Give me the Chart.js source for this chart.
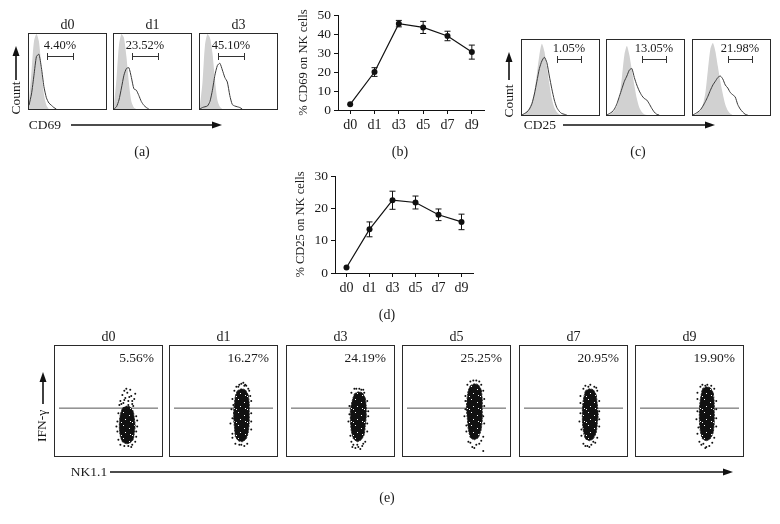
<!DOCTYPE html>
<html>
<head>
<meta charset="utf-8">
<script src="https://cdn.jsdelivr.net/npm/chart.js@4.4.0/dist/chart.umd.min.js"></script>
<style>
  body { margin:0; background:#fff; font-family:"Liberation Serif","DejaVu Serif",serif; color:#1a1a1a; }
  #fig { position:relative; width:780px; height:524px; overflow:hidden; filter:grayscale(1); }
  .box { position:absolute; border:1px solid #2a2a2a; box-sizing:border-box; background:#fff; }
  .box > div { position:absolute; left:0; top:0; right:0; bottom:0; }
  .plot { position:absolute; }
  .t { position:absolute; font-size:14px; white-space:nowrap; transform:translate(-50%,-50%); line-height:1; }
  .pct { position:absolute; font-size:13px; white-space:nowrap; line-height:1; }
  .rot { transform:translate(-50%,-50%) rotate(-90deg); }
  .gate { position:absolute; height:7px; border-left:1px solid #333; border-right:1px solid #333; box-sizing:border-box;
          background:linear-gradient(#333,#333) center/100% 1px no-repeat; }
  svg { position:absolute; left:0; top:0; }
</style>
</head>
<body>
<div id="fig">
  <svg width="780" height="524" id="arrows"></svg>
</div>
<script>
// ---- data ----
const days = ['d0', 'd1', 'd3', 'd5', 'd7', 'd9'];
const cd69Mean = [3, 20, 45.5, 43.5, 39, 30.5];
const cd69Err  = [0, 2.3, 1.7, 3.2, 2.5, 3.7];
const cd69Ticks = [0, 10, 20, 30, 40, 50];
const cd25Mean = [1.7, 13.5, 22.5, 21.8, 18, 15.8];
const cd25Err  = [0, 2.3, 2.8, 2, 1.8, 2.4];
const cd25Ticks = [0, 10, 20, 30];

// histograms (percent of box height per bin)
const histDays = ['d0', 'd1', 'd3'];
const histBins = [0,1,2,3,4,5,6,7,8,9,10,11,12,13,14,15,16,17,18,19,20,21,22,23,24,25,26,27,28,29,30,31];
const cd69Pct = ['4.40%', '23.52%', '45.10%'];
const cd69Iso = [
  [10, 50, 90, 100, 90, 55, 20, 5, 0],
  [5, 40, 85, 100, 95, 70, 35, 10, 2, 0],
  [5, 35, 85, 100, 95, 75, 40, 12, 3, 0]
];
const cd69Stain = [
  [5, 20, 45, 70, 73, 55, 30, 15, 8, 5, 2, 0],
  [0, 3, 12, 28, 45, 54, 55, 42, 27, 25, 18, 10, 5, 2, 0],
  [0, 2, 3, 4, 10, 25, 45, 58, 61, 52, 42, 36, 18, 6, 4, 3, 2, 0]
];
const cd25Pct = ['1.05%', '13.05%', '21.98%'];
const cd25Iso = [
  [0, 2, 5, 10, 18, 32, 55, 80, 95, 85, 65, 42, 22, 10, 4, 1, 0],
  [0, 1, 3, 6, 12, 25, 50, 80, 92, 80, 60, 40, 22, 10, 4, 1, 0],
  [0, 1, 3, 6, 14, 30, 60, 88, 96, 85, 65, 45, 28, 14, 6, 2, 0]
];
const cd25Stain = [
  [0, 2, 4, 8, 15, 28, 45, 62, 72, 77, 70, 52, 35, 20, 10, 5, 2, 1, 0],
  [0, 2, 4, 8, 15, 25, 35, 45, 52, 60, 62, 50, 40, 32, 26, 22, 20, 15, 9, 4, 1, 0],
  [0, 2, 4, 7, 12, 18, 25, 33, 40, 45, 50, 52, 48, 40, 36, 30, 27, 24, 14, 8, 4, 1, 0]
];

// IFN-g dot plots (x,y in % of box): dense core outline + loose events
const ifnPct = ['5.56%', '16.27%', '24.19%', '25.25%', '20.95%', '19.90%'];
const ifnGate = 43;
const ifnCore = [
  [[64,43],[68,45],[72,44],[75,40],[76,34],[77,26],[76,18],[75,12],[72,9],[68,8],[64,10],[62,15],[61,22],[61,30],[62,37],[64,43]],
  [[64,60],[68,62],[72,61],[75,56],[76,48],[76,38],[76,28],[75,19],[73,13],[69,10],[65,11],[62,15],[61,25],[60,36],[61,47],[62,55],[64,60]],
  [[64,57],[68,59],[72,58],[75,53],[76,45],[76,35],[75,25],[74,17],[71,12],[67,10],[63,13],[61,20],[60,30],[60,42],[62,51],[64,57]],
  [[64,65],[68,67],[72,66],[75,61],[76,52],[76,42],[76,32],[75,22],[72,14],[68,12],[64,14],[62,22],[61,32],[60,44],[61,55],[62,61],[64,65]],
  [[62,60],[66,62],[70,61],[73,56],[74,47],[75,37],[74,27],[73,19],[70,13],[66,11],[62,13],[60,20],[59,30],[59,42],[60,52],[62,60]],
  [[63,62],[67,64],[71,63],[74,58],[75,48],[75,38],[75,28],[74,19],[71,13],[67,11],[63,13],[61,20],[60,30],[60,42],[61,52],[63,62]]
];
const ifnDots = [
  [[65,48],[70,50],[74,47],[67,53],[73,55],[62,50],[76,52],[69,58],[64,56],[72,61],[66,60],[77,57],[70,46],[63,47],[75,45],[68,62],[71,54],[66,51],[74,50],[61,46],
   [59,30],[79,25],[59,20],[78,15],[70,6],[66,6],[74,7],[60,12],[78,35],[60,38],[79,31],[58,25],[78,20],[73,5],[62,7],[77,10]],
  [[66,66],[70,68],[73,65],[63,64],[68,67],[75,62],[61,60],[65,64],[71,65],[77,55],[59,52],[78,50],[58,42],[78,38],[59,33],[57,28],[78,22],[59,18],
   [59,14],[66,7],[71,6],[74,8],[62,8],[68,7],[76,60],[72,66],[78,30],[60,46]],
  [[64,62],[69,62],[73,61],[61,58],[66,62],[71,61],[74,58],[77,50],[59,45],[78,40],[78,35],[58,30],[59,37],[77,28],[77,20],[60,16],[61,10],[63,7],
   [68,5],[72,6],[65,4],[70,3],[75,10],[67,7],[62,5],[73,8]],
  [[64,69],[70,70],[73,69],[67,70],[61,66],[75,66],[77,60],[59,55],[59,50],[78,45],[78,52],[58,35],[59,42],[78,28],[77,35],[60,20],[60,26],[64,9],
   [70,7],[66,5],[73,8],[68,4],[62,10],[75,11],[77,15],[77,1]],
  [[62,65],[67,66],[71,64],[65,64],[60,62],[74,60],[73,63],[57,48],[57,55],[76,40],[76,50],[56,30],[57,38],[76,25],[76,32],[58,16],[58,22],[60,8],
   [64,6],[68,7],[62,6],[72,9],[66,5],[70,10],[74,14]],
  [[63,66],[68,66],[72,65],[66,65],[61,64],[75,62],[58,52],[58,58],[77,42],[77,50],[57,32],[58,40],[77,25],[77,33],[58,18],[59,24],[62,7],[66,4],
   [70,6],[64,8],[73,9],[67,5],[60,10],[75,14]]
];

// ---- layout ----
Chart.defaults.font.family = '"Liberation Serif","DejaVu Serif",serif';
Chart.defaults.font.size = 13;
Chart.defaults.color = '#1a1a1a';
Chart.defaults.animation = false;

const fig = document.getElementById('fig');

function addText(txt, x, y, cls, size) {
  const d = document.createElement('div');
  d.className = cls || 't';
  d.textContent = txt;
  d.style.left = x + 'px';
  d.style.top = y + 'px';
  if (size) d.style.fontSize = size + 'px';
  fig.appendChild(d);
  return d;
}

function addBox(left, top, w, h) {
  const b = document.createElement('div');
  b.className = 'box';
  Object.assign(b.style, { left: left + 'px', top: top + 'px', width: w + 'px', height: h + 'px' });
  const inner = document.createElement('div');
  const c = document.createElement('canvas');
  inner.appendChild(c);
  b.appendChild(inner);
  fig.appendChild(b);
  return c;
}

function addGate(x1, x2, y) {
  const g = document.createElement('div');
  g.className = 'gate';
  Object.assign(g.style, { left: x1 + 'px', top: (y - 3) + 'px', width: (x2 - x1) + 'px' });
  fig.appendChild(g);
}

const svg = document.getElementById('arrows');
function arrow(x1, y1, x2, y2) {
  const ns = 'http://www.w3.org/2000/svg';
  const horiz = y1 === y2;
  const l = document.createElementNS(ns, 'line');
  l.setAttribute('x1', x1); l.setAttribute('y1', y1);
  l.setAttribute('x2', horiz ? x2 - 8 : x2); l.setAttribute('y2', horiz ? y2 : y2 + 8);
  l.setAttribute('stroke', '#111'); l.setAttribute('stroke-width', '1.6');
  svg.appendChild(l);
  const p = document.createElementNS(ns, 'polygon');
  p.setAttribute('points', horiz
    ? `${x2},${y2} ${x2 - 10},${y2 - 3.5} ${x2 - 10},${y2 + 3.5}`
    : `${x2},${y2} ${x2 - 3.5},${y2 + 10} ${x2 + 3.5},${y2 + 10}`);
  p.setAttribute('fill', '#111');
  svg.appendChild(p);
}

// speckled fill for the dense part of the dot clouds
function speckle() {
  const c = document.createElement('canvas');
  c.width = 11; c.height = 13;
  const g = c.getContext('2d');
  g.fillStyle = '#111';
  g.fillRect(0, 0, 11, 13);
  g.fillStyle = '#fff';
  [[2, 1], [8, 4], [4, 8], [0, 11], [9, 10]].forEach(p => g.fillRect(p[0], p[1], 1, 1));
  return g.createPattern(c, 'repeat');
}
const cloudFill = speckle();

function histChart(canvas, iso, stain) {
  new Chart(canvas, {
    type: 'line',
    data: {
      labels: histBins,
      datasets: [
        { data: stain, fill: false, borderColor: '#3a3a3a', borderWidth: 1, pointRadius: 0, tension: 0.2 },
        { data: iso, fill: 'origin', backgroundColor: '#cdd2d3', borderColor: 'rgba(0,0,0,0)', borderWidth: 0, pointRadius: 0, tension: 0.25 }
      ]
    },
    options: {
      responsive: true, maintainAspectRatio: false,
      layout: { padding: 0 },
      plugins: { legend: { display: false }, tooltip: { enabled: false } },
      scales: {
        x: { display: false, offset: false },
        y: { display: false, min: 0, max: 100 }
      }
    }
  });
}

const errorBars = {
  id: 'errorBars',
  afterDatasetsDraw(chart, args, opts) {
    const { ctx } = chart;
    const y = chart.scales.y;
    const meta = chart.getDatasetMeta(0);
    const vals = chart.data.datasets[0].data;
    ctx.save();
    ctx.strokeStyle = '#111';
    ctx.lineWidth = 1;
    (opts.err || []).forEach((e, i) => {
      if (!e) return;
      const px = meta.data[i].x;
      const top = y.getPixelForValue(vals[i] + e), bot = y.getPixelForValue(vals[i] - e);
      ctx.beginPath();
      ctx.moveTo(px, top); ctx.lineTo(px, bot);
      ctx.moveTo(px - 3, top); ctx.lineTo(px + 3, top);
      ctx.moveTo(px - 3, bot); ctx.lineTo(px + 3, bot);
      ctx.stroke();
    });
    ctx.restore();
  }
};

function lineChart(left, top, w, h, opt) {
  const wrap = document.createElement('div');
  wrap.className = 'plot';
  Object.assign(wrap.style, { left: left + 'px', top: top + 'px', width: w + 'px', height: h + 'px' });
  const c = document.createElement('canvas');
  wrap.appendChild(c);
  fig.appendChild(wrap);
  new Chart(c, {
    type: 'line',
    data: {
      labels: days,
      datasets: [{ data: opt.values, borderColor: '#111', borderWidth: 1.2, pointRadius: 3,
                   pointBackgroundColor: '#111', pointBorderWidth: 0, tension: 0 }]
    },
    options: {
      responsive: true, maintainAspectRatio: false,
      layout: { padding: opt.pad },
      plugins: { legend: { display: false }, tooltip: { enabled: false }, errorBars: { err: opt.err } },
      scales: {
        x: {
          offset: true,
          grid: { offset: false, drawOnChartArea: false, tickLength: 4, color: '#111' },
          border: { color: '#111', width: 1 },
          ticks: { padding: 3, color: '#1a1a1a', font: { size: 14 }, autoSkip: false, maxRotation: 0 },
          afterFit: s => { s.height = opt.xh; }
        },
        y: {
          min: 0, max: opt.max,
          afterBuildTicks: s => { s.ticks = opt.ticks.map(v => ({ value: v })); },
          grid: { drawOnChartArea: false, tickLength: 4, color: '#111' },
          border: { color: '#111', width: 1 },
          ticks: { padding: 3, color: '#1a1a1a', font: { size: 13.5 }, autoSkip: false },
          title: { display: true, text: opt.title, font: { size: 12.5 }, padding: { top: opt.tpad, bottom: 0 }, color: '#1a1a1a' },
          afterFit: s => { s.width = opt.yw; }
        }
      }
    },
    plugins: [errorBars]
  });
}

// ---- panel (a) ----
const aBoxes = [28, 113, 199];
aBoxes.forEach((x, i) => {
  addText(histDays[i], x + 39.5, 25);
  histChart(addBox(x, 33, 79, 77), cd69Iso[i], cd69Stain[i]);
  addText(cd69Pct[i], x + 32, 45, 't', 12.5);
  addGate(x + 19, x + 46, 56);
});
addText('Count', 16, 98, 't rot', 13.5);
arrow(16, 80, 16, 46);
addText('CD69', 45, 125, 't', 13.5);
arrow(71, 125, 222, 125);
addText('(a)', 142, 152);

// ---- panel (b) ----
lineChart(290, 4, 200, 132, { values: cd69Mean, err: cd69Err, ticks: cd69Ticks, max: 50,
  title: '% CD69 on NK cells', tpad: 6, yw: 48, xh: 26, pad: { top: 10, right: 6, left: 0, bottom: 0 } });
addText('(b)', 400, 152);

// ---- panel (c) ----
const cBoxes = [521, 606, 692];
cBoxes.forEach((x, i) => {
  histChart(addBox(x, 39, 79, 77), cd25Iso[i], cd25Stain[i]);
  addText(cd25Pct[i], x + 48, 48, 't', 12.5);
  addGate(x + 36, x + 61, 59);
});
addText('Count', 509, 101, 't rot', 13.5);
arrow(509, 80, 509, 52);
addText('CD25', 540, 125, 't', 13.5);
arrow(563, 125, 715, 125);
addText('(c)', 638, 152);

// ---- panel (d) ----
lineChart(290, 164, 195, 136, { values: cd25Mean, err: cd25Err, ticks: cd25Ticks, max: 30,
  title: '% CD25 on NK cells', tpad: 3, yw: 45, xh: 27, pad: { top: 12, right: 12, left: 0, bottom: 0 } });
addText('(d)', 387, 315);

// ---- panel (e) ----
const eBoxes = [54, 169, 286, 402, 519, 635];
eBoxes.forEach((x, i) => {
  addText(days[i], x + 54.5, 337);
  const c = addBox(x, 345, 109, 112);
  new Chart(c, {
    type: 'scatter',
    data: {
      datasets: [
        { data: ifnDots[i].map(p => ({ x: p[0], y: p[1] })), pointRadius: 1, pointBackgroundColor: '#111', pointBorderWidth: 0 },
        { data: ifnCore[i].map(p => ({ x: p[0], y: p[1] })), showLine: true, fill: 'shape', backgroundColor: cloudFill,
          borderColor: '#222', borderWidth: 1, borderDash: [2, 1], pointRadius: 0, tension: 0.1 },
        { data: [{ x: 0, y: ifnGate }, { x: 100, y: ifnGate }], showLine: true, borderColor: '#555', borderWidth: 1, pointRadius: 0 }
      ]
    },
    options: {
      responsive: true, maintainAspectRatio: false,
      layout: { padding: 0 },
      plugins: { legend: { display: false }, tooltip: { enabled: false } },
      scales: {
        x: { display: false, min: 0, max: 100 },
        y: { display: false, min: 0, max: 100 }
      }
    }
  });
  const p = addText(ifnPct[i], 0, 351, 'pct');
  p.style.left = 'auto';
  p.style.right = (780 - (x + 109 - 9)) + 'px';
  p.style.fontSize = '13.5px';
});
addText('IFN-γ', 42, 426, 't rot', 13.5);
arrow(43, 404, 43, 372);
addText('NK1.1', 89, 472, 't', 13.5);
arrow(110, 472, 733, 472);
addText('(e)', 387, 498);
</script>
</body>
</html>
